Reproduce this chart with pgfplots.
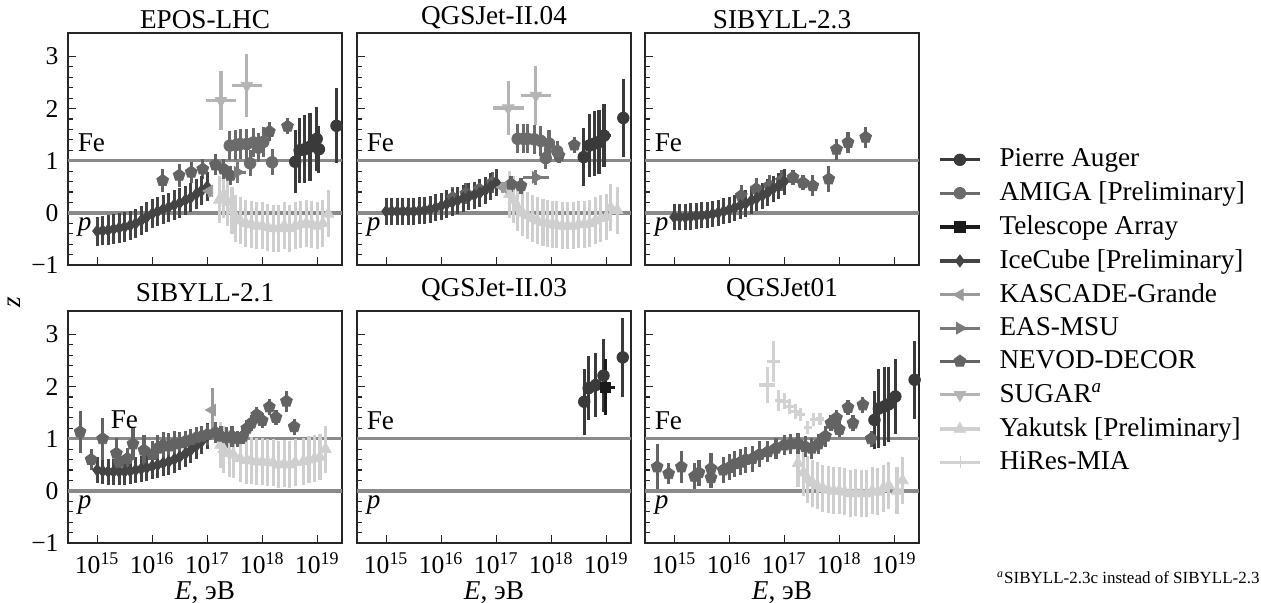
\documentclass[border=0pt]{standalone}
\usepackage{fontspec}
\setmainfont{Liberation Serif}
\usepackage{pgfplots}
\pgfplotsset{compat=1.18}
\usetikzlibrary{plotmarks}

\definecolor{cAuger}{HTML}{3A3A3A}
\definecolor{cAmiga}{HTML}{6B6B6B}
\definecolor{cTA}{HTML}{1A1A1A}
\definecolor{cIce}{HTML}{444444}
\definecolor{cKas}{HTML}{9A9A9A}
\definecolor{cEas}{HTML}{7A7A7A}
\definecolor{cNev}{HTML}{636363}
\definecolor{cSug}{HTML}{B4B4B4}
\definecolor{cYak}{HTML}{CFCFCF}
\definecolor{cHir}{HTML}{D2D2D2}
\definecolor{cLine}{HTML}{8A8A8A}

\pgfplotsset{
  panel/.style={scale only axis, width=137pt, height=116pt,
    xmin=14.47, xmax=19.45, ymin=-1, ymax=3.45,
    xtick={15,16,17,18,19}, ytick={-1,0,1,2,3}, minor y tick num=4,
    xticklabels={}, yticklabels={},
    tick pos=left, tick align=inside,
    major tick length=4pt, minor tick length=2.5pt,
    axis line style={line width=0.7pt, black!85},
    every tick/.style={line width=0.6pt, black!85},
    tick label style={font=\fontsize{12.8}{15}\selectfont},
    title style={at={(0.5,1)}, anchor=south, inner sep=0pt, yshift=-4pt}},
  xlab/.style={xticklabels={10\textsuperscript{15},10\textsuperscript{16},10\textsuperscript{17},10\textsuperscript{18},10\textsuperscript{19}},
    xlabel={\textit{E}, эВ}, xlabel style={yshift=5pt}},
  ylab/.style={yticklabels={−1,0,1,2,3}},
  eb/.style={only marks, error bars/y dir=both, error bars/y explicit,
    error bars/x dir=both, error bars/x explicit, error bars/error mark=none,
    error bars/error bar style={line width=1.6pt}},
  mAuger/.style={color=cAuger, mark=*, mark size=2.9pt},
  mAmiga/.style={color=cAmiga, mark=*, mark size=2.9pt},
  mTA/.style={color=cTA, mark=square*, mark size=2.6pt},
  mIce/.style={color=cIce, mark=diamond*, mark size=3pt},
  mKas/.style={color=cKas, mark=triangle*, mark size=3.3pt, mark options={rotate=90}},
  mEas/.style={color=cEas, mark=triangle*, mark size=3.3pt, mark options={rotate=-90}},
  mNev/.style={color=cNev, mark=pentagon*, mark size=3.1pt},
  mSug/.style={color=cSug, mark=triangle*, mark size=3.3pt, mark options={rotate=180}},
  mYak/.style={color=cYak, mark=triangle*, mark size=3.3pt},
  mHir/.style={color=cHir, mark=|, mark size=3pt},
}

\newcommand{\FeP}[2]{%
  \addplot[forget plot, color=cLine, line width=1.4pt] coordinates {(14.47,1) (19.45,1)};
  \addplot[forget plot, color=cLine, line width=1.8pt] coordinates {(14.47,0) (19.45,0)};
  \node[anchor=base west, inner sep=0pt] at (axis cs:#1,#2) {Fe};
  \node[anchor=base west, inner sep=0pt] at (axis cs:14.64,-0.34) {\textit{p}};
}

\begin{document}
\fontsize{13.6}{16}\selectfont
\begin{tikzpicture}
\useasboundingbox (0,0) rectangle (630.5pt,-301.5pt);

% ---------- EPOS-LHC ----------
\begin{axis}[panel, ylab, title={EPOS-LHC}, at={(34pt,-16.5pt)}, anchor=north west]
\FeP{14.64}{1.18}
\addplot[mYak, eb] coordinates {
 (17.22,0.25)+-(0,0.45) (17.3,0.35)+-(0,0.45) (17.37,0.2)+-(0,0.45) (17.45,0.05)+-(0,0.45)
 (17.52,-0.1)+-(0,0.45) (17.6,-0.15)+-(0,0.45) (17.7,-0.2)+-(0,0.45) (17.8,-0.22)+-(0,0.45)
 (17.9,-0.25)+-(0,0.45) (18.0,-0.25)+-(0,0.45) (18.1,-0.28)+-(0,0.45) (18.2,-0.3)+-(0,0.45)
 (18.3,-0.3)+-(0,0.45) (18.4,-0.25)+-(0,0.45) (18.5,-0.3)+-(0,0.45) (18.6,-0.25)+-(0,0.45)
 (18.7,-0.22)+-(0,0.45) (18.8,-0.2)+-(0,0.45) (18.9,-0.22)+-(0,0.45) (19.0,-0.25)+-(0,0.45)
 (19.1,-0.2)+-(0,0.45) (19.2,-0.02)+-(0,0.45)};
\addplot[mSug, eb] coordinates {(17.25,2.15)+-(0.27,0.57) (17.72,2.44)+-(0.27,0.61)};
\addplot[mNev, eb] coordinates {
 (16.19,0.62)+-(0,0.22) (16.49,0.72)+-(0,0.22) (16.71,0.78)+-(0,0.2) (16.92,0.84)+-(0,0.2)
 (17.15,0.92)+-(0,0.2) (17.3,0.84)+-(0,0.2) (17.42,0.72)+-(0,0.18)
 (18.13,1.56)+-(0,0.18) (18.46,1.66)+-(0,0.15)};
\addplot[mIce, eb] coordinates {
 (15.0,-0.35)+-(0,0.28) (15.1,-0.34)+-(0,0.28) (15.2,-0.33)+-(0,0.28) (15.3,-0.31)+-(0,0.28)
 (15.4,-0.29)+-(0,0.28) (15.5,-0.27)+-(0,0.28) (15.6,-0.24)+-(0,0.28) (15.7,-0.2)+-(0,0.28)
 (15.8,-0.15)+-(0,0.28) (15.9,-0.08)+-(0,0.28) (16.0,-0.02)+-(0,0.28) (16.1,0.03)+-(0,0.28)
 (16.2,0.07)+-(0,0.28) (16.3,0.11)+-(0,0.28) (16.4,0.15)+-(0,0.28) (16.5,0.19)+-(0,0.28)
 (16.6,0.24)+-(0,0.28) (16.7,0.29)+-(0,0.28) (16.8,0.36)+-(0,0.28) (16.9,0.43)+-(0,0.28)
 (17.0,0.5)+-(0,0.28)};
\addplot[mKas, eb] coordinates {(17.04,0.42)+-(0,0.12)};
\addplot[mEas, eb] coordinates {(17.55,0.78)+-(0.15,0.2)};
\addplot[mAmiga, eb] coordinates {
 (17.41,1.29)+-(0,0.28) (17.52,1.3)+-(0,0.28) (17.6,1.32)+-(0,0.28) (17.72,1.32)+-(0,0.28)
 (17.84,1.35)+-(0,0.28) (17.93,1.25)+-(0,0.28) (18.02,1.36)+-(0,0.28)
 (17.78,0.95)+-(0,0.25) (18.18,0.97)+-(0,0.25)};
\addplot[mAuger, eb] coordinates {
 (18.6,0.98)+-(0,0.6) (18.68,1.2)+-(0,0.62) (18.77,1.22)+-(0,0.65) (18.87,1.27)+-(0,0.65)
 (18.99,1.42)+-(0,0.62) (19.03,1.22)+-(0.1,0.45) (19.35,1.67)+-(0,0.72)};
\end{axis}

% ---------- QGSJet-II.04 ----------
\begin{axis}[panel, title={QGSJet-II.04}, at={(178.5pt,-16.5pt)}, anchor=north west]
\FeP{14.64}{1.18}
\addplot[mYak, eb] coordinates {
 (17.24,0.36)+-(0,0.45) (17.32,0.25)+-(0,0.45) (17.39,0.1)+-(0,0.45) (17.48,0.0)+-(0,0.45)
 (17.57,-0.05)+-(0,0.45) (17.66,-0.1)+-(0,0.45) (17.75,-0.15)+-(0,0.45) (17.85,-0.18)+-(0,0.45)
 (17.93,-0.2)+-(0,0.45) (18.02,-0.22)+-(0,0.45) (18.1,-0.23)+-(0,0.45) (18.2,-0.25)+-(0,0.45)
 (18.3,-0.25)+-(0,0.45) (18.4,-0.25)+-(0,0.45) (18.5,-0.22)+-(0,0.45) (18.6,-0.22)+-(0,0.45)
 (18.7,-0.2)+-(0,0.45) (18.8,-0.15)+-(0,0.45) (18.9,-0.1)+-(0,0.45) (19.0,-0.08)+-(0,0.45)
 (19.08,0.1)+-(0,0.45) (19.2,0.05)+-(0,0.45)};
\addplot[mSug, eb] coordinates {(17.22,2.01)+-(0.28,0.52) (17.72,2.25)+-(0.27,0.56)};
\addplot[mNev, eb] coordinates {
 (16.21,0.29)+-(0,0.2) (16.45,0.37)+-(0,0.2) (16.69,0.45)+-(0,0.2) (16.93,0.58)+-(0,0.2)
 (17.27,0.55)+-(0,0.15) (17.45,0.52)+-(0,0.15) (18.14,1.1)+-(0,0.15) (18.42,1.3)+-(0,0.15)};
\addplot[mIce, eb] coordinates {
 (15.0,0.03)+-(0,0.26) (15.1,0.03)+-(0,0.26) (15.2,0.03)+-(0,0.26) (15.3,0.03)+-(0,0.26)
 (15.4,0.03)+-(0,0.26) (15.5,0.03)+-(0,0.26) (15.6,0.04)+-(0,0.26) (15.7,0.05)+-(0,0.26)
 (15.8,0.07)+-(0,0.26) (15.9,0.1)+-(0,0.26) (16.0,0.13)+-(0,0.26) (16.1,0.17)+-(0,0.26)
 (16.2,0.2)+-(0,0.26) (16.3,0.24)+-(0,0.26) (16.4,0.28)+-(0,0.26) (16.5,0.31)+-(0,0.26)
 (16.6,0.34)+-(0,0.26) (16.7,0.38)+-(0,0.26) (16.8,0.43)+-(0,0.26) (16.9,0.5)+-(0,0.26)
 (17.0,0.58)+-(0,0.26)};
\addplot[mKas, eb] coordinates {(17.12,0.49)+-(0,0.1)};
\addplot[mEas, eb] coordinates {(17.72,0.68)+-(0.24,0.15)};
\addplot[mAmiga, eb] coordinates {
 (17.39,1.42)+-(0,0.28) (17.5,1.42)+-(0,0.28) (17.57,1.42)+-(0,0.28) (17.69,1.41)+-(0,0.28)
 (17.81,1.38)+-(0,0.28) (17.96,1.33)+-(0,0.25) (17.9,1.05)+-(0,0.2) (18.11,1.18)+-(0,0.2)};
\addplot[mAuger, eb] coordinates {
 (18.59,1.07)+-(0,0.55) (18.69,1.29)+-(0,0.6) (18.79,1.33)+-(0,0.62) (18.87,1.36)+-(0,0.62)
 (18.96,1.48)+-(0.12,0.6) (19.31,1.82)+-(0,0.75)};
\end{axis}

% ---------- SIBYLL-2.3 ----------
\begin{axis}[panel, title={SIBYLL-2.3}, at={(322.5pt,-16.5pt)}, anchor=north west,
  legend style={at={(axis description cs:1.069,0.52)}, anchor=north west,
    draw=none, fill=none, inner sep=0pt, row sep=1.45pt, column sep=7pt,
    cells={anchor=west}},
  legend image code/.code={\draw[#1, line width=1.6pt] (0pt,0pt) -- (20pt,0pt);
    \draw[#1] plot coordinates {(10pt,0pt)};}]
\addlegendimage{mAuger}\addlegendentry{Pierre Auger}
\addlegendimage{mAmiga}\addlegendentry{AMIGA [Preliminary]}
\addlegendimage{mTA}\addlegendentry{Telescope Array}
\addlegendimage{mIce}\addlegendentry{IceCube [Preliminary]}
\addlegendimage{mKas}\addlegendentry{KASCADE-Grande}
\addlegendimage{mEas}\addlegendentry{EAS-MSU}
\addlegendimage{mNev}\addlegendentry{NEVOD-DECOR}
\addlegendimage{mSug}\addlegendentry{SUGAR\textsuperscript{\textit{a}}}
\addlegendimage{mYak}\addlegendentry{Yakutsk [Preliminary]}
\addlegendimage{mHir}\addlegendentry{HiRes-MIA}
\FeP{14.64}{1.18}
\addplot[forget plot, mNev, eb] coordinates {
 (16.22,0.33)+-(0,0.2) (16.49,0.46)+-(0,0.2) (16.73,0.52)+-(0,0.2) (16.95,0.62)+-(0,0.2)
 (17.16,0.68)+-(0,0.15) (17.34,0.58)+-(0,0.15) (17.52,0.52)+-(0,0.2) (17.81,0.65)+-(0,0.25)
 (17.95,1.22)+-(0,0.2) (18.16,1.35)+-(0,0.2) (18.48,1.45)+-(0,0.2)};
\addplot[forget plot, mIce, eb] coordinates {
 (15.0,-0.08)+-(0,0.25) (15.1,-0.08)+-(0,0.25) (15.2,-0.08)+-(0,0.25) (15.3,-0.07)+-(0,0.25)
 (15.4,-0.06)+-(0,0.25) (15.5,-0.05)+-(0,0.25) (15.6,-0.04)+-(0,0.25) (15.7,-0.02)+-(0,0.25)
 (15.8,0.0)+-(0,0.25) (15.9,0.03)+-(0,0.25) (16.0,0.06)+-(0,0.25) (16.1,0.1)+-(0,0.25)
 (16.2,0.14)+-(0,0.25) (16.3,0.18)+-(0,0.25) (16.4,0.23)+-(0,0.25) (16.5,0.28)+-(0,0.25)
 (16.6,0.33)+-(0,0.25) (16.7,0.39)+-(0,0.25) (16.8,0.46)+-(0,0.25) (16.9,0.52)+-(0,0.25)
 (17.0,0.6)+-(0,0.25)};
\end{axis}

% ---------- SIBYLL-2.1 ----------
\begin{axis}[panel, ylab, xlab, title={SIBYLL-2.1}, title style={yshift=2.6pt},
  at={(34pt,-155.5pt)}, anchor=north west]
\FeP{15.24}{1.2}
\addplot[mYak, eb] coordinates {
 (17.24,0.88)+-(0,0.45) (17.3,0.8)+-(0,0.45) (17.4,0.72)+-(0,0.45) (17.48,0.69)+-(0,0.45)
 (17.6,0.62)+-(0,0.45) (17.72,0.59)+-(0,0.45) (17.8,0.58)+-(0,0.45) (17.9,0.56)+-(0,0.45)
 (18.0,0.56)+-(0,0.45) (18.1,0.55)+-(0,0.45) (18.2,0.54)+-(0,0.45) (18.3,0.5)+-(0,0.45)
 (18.4,0.52)+-(0,0.45) (18.5,0.5)+-(0,0.45) (18.6,0.55)+-(0,0.45) (18.75,0.57)+-(0,0.45)
 (18.85,0.6)+-(0,0.45) (18.95,0.62)+-(0,0.45) (19.05,0.65)+-(0,0.45) (19.15,0.8)+-(0,0.45)};
\addplot[mIce, eb] coordinates {
 (15.0,0.4)+-(0,0.25) (15.1,0.38)+-(0,0.25) (15.2,0.37)+-(0,0.25) (15.3,0.37)+-(0,0.25)
 (15.4,0.37)+-(0,0.25) (15.5,0.37)+-(0,0.25) (15.6,0.38)+-(0,0.25) (15.7,0.4)+-(0,0.25)
 (15.8,0.42)+-(0,0.25) (15.9,0.44)+-(0,0.25) (16.0,0.47)+-(0,0.25) (16.1,0.5)+-(0,0.25)
 (16.2,0.53)+-(0,0.25) (16.3,0.56)+-(0,0.25) (16.4,0.6)+-(0,0.25) (16.5,0.65)+-(0,0.25)
 (16.6,0.71)+-(0,0.25) (16.7,0.78)+-(0,0.25) (16.8,0.86)+-(0,0.25) (16.9,0.95)+-(0,0.25)
 (17.0,1.05)+-(0,0.25)};
\addplot[mNev, eb] coordinates {
 (14.69,1.13)+-(0,0.4) (14.89,0.6)+-(0,0.2) (15.1,1.0)+-(0,0.4) (15.35,0.72)+-(0,0.3)
 (15.4,0.55)+-(0,0.2) (15.55,0.62)+-(0,0.2) (15.65,0.9)+-(0,0.3) (15.85,0.78)+-(0,0.3)
 (16.0,0.7)+-(0,0.25) (16.1,0.82)+-(0,0.25) (16.2,0.88)+-(0,0.25) (16.3,0.86)+-(0,0.25)
 (16.4,0.9)+-(0,0.25) (16.5,0.92)+-(0,0.2) (16.6,0.95)+-(0,0.2) (16.7,0.98)+-(0,0.2)
 (16.8,1.02)+-(0,0.2) (16.9,1.05)+-(0,0.2) (17.0,1.08)+-(0,0.2) (17.15,1.12)+-(0,0.2)
 (17.25,1.05)+-(0,0.2) (17.35,1.02)+-(0,0.2) (17.45,1.05)+-(0,0.2) (17.55,1.0)+-(0,0.15)
 (17.65,1.05)+-(0,0.15) (17.72,1.2)+-(0,0.15) (17.8,1.3)+-(0,0.15) (17.9,1.46)+-(0,0.15)
 (18.0,1.35)+-(0,0.15) (18.13,1.61)+-(0,0.15) (18.25,1.41)+-(0,0.15) (18.44,1.72)+-(0,0.2)
 (18.58,1.23)+-(0,0.15)};
\addplot[mKas, eb] coordinates {(17.09,1.55)+-(0,0.42)};
\end{axis}

% ---------- QGSJet-II.03 ----------
\begin{axis}[panel, xlab, title={QGSJet-II.03}, title style={yshift=2.6pt},
  at={(178.5pt,-155.5pt)}, anchor=north west]
\FeP{14.64}{1.18}
\addplot[mAuger, eb] coordinates {
 (18.6,1.71)+-(0,0.63) (18.68,1.97)+-(0,0.61) (18.81,2.03)+-(0,0.62) (18.95,2.21)+-(0,0.7)
 (19.3,2.56)+-(0,0.76)};
\addplot[mTA, eb] coordinates {(18.98,1.99)+-(0.17,0.53)};
\end{axis}

% ---------- QGSJet01 ----------
\begin{axis}[panel, xlab, title={QGSJet01}, title style={yshift=2.6pt},
  at={(322.5pt,-155.5pt)}, anchor=north west]
\FeP{14.64}{1.18}
\addplot[mYak, eb] coordinates {
 (17.25,0.53)+-(0,0.45) (17.35,0.35)+-(0,0.45) (17.43,0.22)+-(0,0.45) (17.52,0.15)+-(0,0.45)
 (17.6,0.1)+-(0,0.45) (17.7,0.05)+-(0,0.45) (17.8,0.02)+-(0,0.45) (17.9,0.0)+-(0,0.45)
 (18.0,0.0)+-(0,0.45) (18.1,-0.02)+-(0,0.45) (18.2,-0.05)+-(0,0.45) (18.3,-0.03)+-(0,0.45)
 (18.4,-0.05)+-(0,0.45) (18.5,-0.05)+-(0,0.45) (18.6,0.0)+-(0,0.45) (18.7,-0.02)+-(0,0.45)
 (18.8,0.05)+-(0,0.45) (18.9,0.1)+-(0,0.45) (19.05,0.0)+-(0,0.45) (19.15,0.2)+-(0,0.45)};
\addplot[mHir, eb] coordinates {
 (16.69,2.03)+-(0.14,0.35) (16.81,2.48)+-(0.12,0.4) (16.9,1.74)+-(0.07,0.2) (17.0,1.72)+-(0.07,0.15)
 (17.1,1.62)+-(0.07,0.15) (17.2,1.52)+-(0.07,0.15) (17.3,1.46)+-(0.07,0.12) (17.43,1.22)+-(0.07,0.12)
 (17.53,1.37)+-(0.07,0.12) (17.65,1.38)+-(0.07,0.12)};
\addplot[mNev, eb] coordinates {
 (14.69,0.46)+-(0,0.43) (14.9,0.33)+-(0,0.2) (15.13,0.46)+-(0,0.3) (15.37,0.28)+-(0,0.25)
 (15.45,0.35)+-(0,0.25) (15.67,0.43)+-(0,0.3) (15.67,0.25)+-(0,0.2) (15.89,0.4)+-(0,0.25)
 (16.0,0.45)+-(0,0.25) (16.1,0.52)+-(0,0.25) (16.2,0.55)+-(0,0.25) (16.3,0.6)+-(0,0.25)
 (16.42,0.62)+-(0,0.25) (16.55,0.7)+-(0,0.25) (16.7,0.75)+-(0,0.2) (16.85,0.82)+-(0,0.2)
 (17.0,0.88)+-(0,0.2) (17.12,0.9)+-(0,0.2) (17.25,0.91)+-(0,0.2) (17.38,0.85)+-(0,0.2)
 (17.5,0.82)+-(0,0.2) (17.62,0.9)+-(0,0.2) (17.75,1.05)+-(0,0.2) (17.85,1.3)+-(0,0.15)
 (17.95,1.4)+-(0,0.15) (18.0,1.18)+-(0,0.15) (18.16,1.6)+-(0,0.15) (18.25,1.3)+-(0,0.15)
 (18.43,1.65)+-(0,0.15) (18.58,1.0)+-(0,0.15)};
\addplot[mAuger, eb] coordinates {
 (18.64,1.36)+-(0,0.55) (18.72,1.58)+-(0,0.75) (18.82,1.62)+-(0,0.75) (18.9,1.66)+-(0,0.72)
 (19.02,1.81)+-(0,0.72) (19.37,2.13)+-(0,0.75)};
\end{axis}

\node[rotate=90, font=\itshape] at (7pt,-151pt) {z};
\node[anchor=base east, inner sep=0pt, font=\fontsize{8.5}{10}\selectfont] at (630pt,-291.5pt)
  {\textsuperscript{\textit{a}}SIBYLL-2.3c instead of SIBYLL-2.3};
\end{tikzpicture}
\end{document}
